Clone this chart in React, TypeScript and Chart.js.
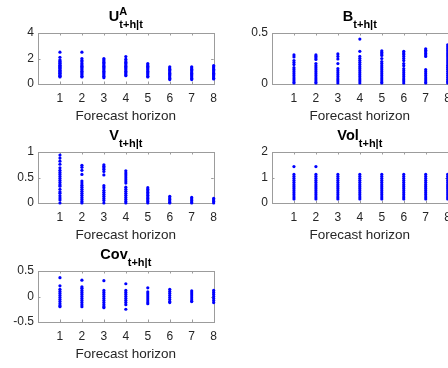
import React, { useEffect, useRef } from "react";
import { Chart, registerables } from "chart.js";

Chart.register(...registerables);

// ---------- data ----------
const horizons = [1, 2, 3, 4, 5, 6, 7, 8];
const xTicks = [1, 2, 3, 4, 5, 6, 7, 8];
const xLabel = "Forecast horizon";

// U^A_{t+h|t}: one list of draws per horizon
const uaValues = [
  [2.5, 2.1, 1.9, 1.8, 1.75, 1.65, 1.6, 1.5, 1.45, 1.4, 1.3, 1.25, 1.2, 1.1, 1.05, 1.0, 0.9, 0.85, 0.8, 0.7, 0.65, 0.6, 0.55],
  [2.5, 2.0, 1.85, 1.75, 1.6, 1.5, 1.4, 1.3, 1.2, 1.1, 1.0, 0.9, 0.8, 0.7, 0.6, 0.55],
  [2.0, 1.9, 1.8, 1.7, 1.6, 1.5, 1.4, 1.3, 1.2, 1.1, 1.0, 0.9, 0.8, 0.7, 0.6, 0.5],
  [2.15, 1.95, 1.8, 1.7, 1.6, 1.5, 1.4, 1.3, 1.2, 1.1, 1.0, 0.9, 0.8, 0.7, 0.65],
  [1.6, 1.5, 1.4, 1.3, 1.2, 1.1, 1.0, 0.9, 0.8, 0.7, 0.6, 0.55],
  [1.35, 1.25, 1.15, 1.05, 0.95, 0.85, 0.75, 0.65, 0.55, 0.45, 0.35],
  [1.35, 1.25, 1.15, 1.05, 0.95, 0.85, 0.75, 0.65, 0.55, 0.45, 0.35],
  [1.45, 1.35, 1.25, 1.15, 1.05, 0.95, 0.85, 0.75, 0.65, 0.55, 0.45, 0.4],
];
const uaYTicks = [0, 2, 4];

// B_{t+h|t}
const bValues = [
  [0.285, 0.265, 0.23, 0.21, 0.19, 0.16, 0.14, 0.12, 0.1, 0.08, 0.06, 0.04, 0.02, 0.01],
  [0.285, 0.27, 0.255, 0.24, 0.2, 0.18, 0.16, 0.14, 0.12, 0.1, 0.08, 0.06, 0.04, 0.02, 0.01],
  [0.295, 0.27, 0.245, 0.2, 0.15, 0.13, 0.11, 0.09, 0.07, 0.05, 0.03, 0.01],
  [0.44, 0.32, 0.27, 0.25, 0.23, 0.21, 0.19, 0.17, 0.15, 0.13, 0.11, 0.09, 0.07, 0.05, 0.03, 0.01],
  [0.325, 0.31, 0.295, 0.28, 0.25, 0.22, 0.2, 0.18, 0.16, 0.14, 0.12, 0.1, 0.08, 0.06, 0.04, 0.02, 0.01],
  [0.32, 0.305, 0.29, 0.27, 0.25, 0.23, 0.2, 0.18, 0.15, 0.13, 0.11, 0.09, 0.07, 0.05, 0.03, 0.01],
  [0.345, 0.33, 0.315, 0.3, 0.285, 0.27, 0.14, 0.12, 0.1, 0.08, 0.06, 0.04, 0.02, 0.01],
  [0.385, 0.365, 0.345, 0.325, 0.305, 0.285, 0.265, 0.245, 0.225, 0.205, 0.185, 0.165, 0.145, 0.125, 0.105, 0.085, 0.065, 0.045, 0.025, 0.01],
];
const bYTicks = [0, 0.5];

// V_{t+h|t}
const vValues = [
  [0.94, 0.88, 0.82, 0.76, 0.69, 0.64, 0.6, 0.56, 0.52, 0.48, 0.44, 0.4, 0.36, 0.33, 0.27, 0.22, 0.19, 0.14, 0.1, 0.06, 0.0],
  [0.74, 0.7, 0.64, 0.56, 0.43, 0.39, 0.35, 0.31, 0.27, 0.23, 0.19, 0.15, 0.11, 0.07, 0.03, 0.0],
  [0.75, 0.72, 0.69, 0.66, 0.62, 0.55, 0.34, 0.3, 0.25, 0.21, 0.17, 0.13, 0.09, 0.05, 0.0],
  [0.63, 0.59, 0.55, 0.51, 0.47, 0.43, 0.39, 0.31, 0.27, 0.23, 0.19, 0.15, 0.11, 0.07, 0.03, 0.0],
  [0.3, 0.27, 0.24, 0.21, 0.18, 0.15, 0.12, 0.09, 0.06, 0.03, 0.0],
  [0.13, 0.1, 0.07, 0.04, 0.01, 0.0],
  [0.11, 0.08, 0.05, 0.02, 0.0],
  [0.09, 0.06, 0.03, 0.0],
];
const vYTicks = [0, 0.5, 1];

// Vol_{t+h|t}
const volValues = [
  [1.43, 1.12, 1.04, 0.96, 0.88, 0.8, 0.72, 0.64, 0.56, 0.48, 0.4, 0.32, 0.24, 0.16],
  [1.43, 1.12, 1.04, 0.96, 0.88, 0.8, 0.72, 0.64, 0.56, 0.48, 0.4, 0.32, 0.24, 0.16],
  [1.12, 1.04, 0.96, 0.88, 0.8, 0.72, 0.64, 0.56, 0.48, 0.4, 0.32, 0.24, 0.16],
  [1.12, 1.04, 0.96, 0.88, 0.8, 0.72, 0.64, 0.56, 0.48, 0.4, 0.32, 0.24, 0.16],
  [1.12, 1.04, 0.96, 0.88, 0.8, 0.72, 0.64, 0.56, 0.48, 0.4, 0.32, 0.24, 0.16],
  [1.12, 1.04, 0.96, 0.88, 0.8, 0.72, 0.64, 0.56, 0.48, 0.4, 0.32, 0.24, 0.16],
  [1.12, 1.04, 0.96, 0.88, 0.8, 0.72, 0.64, 0.56, 0.48, 0.4, 0.32, 0.24, 0.16],
  [1.12, 1.04, 0.96, 0.88, 0.8, 0.72, 0.64, 0.56, 0.48, 0.4, 0.32, 0.24, 0.16],
];
const volYTicks = [0, 1, 2];

// Cov_{t+h|t}
const covValues = [
  [0.37, 0.21, 0.14, 0.1, 0.06, 0.02, -0.02, -0.06, -0.1, -0.14, -0.18, -0.2],
  [0.32, 0.19, 0.16, 0.12, 0.08, 0.04, 0.0, -0.04, -0.08, -0.12, -0.16, -0.2],
  [0.31, 0.12, 0.08, 0.04, 0.0, -0.04, -0.08, -0.12, -0.16, -0.2, -0.22],
  [0.25, 0.12, 0.08, 0.04, 0.0, -0.04, -0.08, -0.12, -0.16, -0.25],
  [0.17, 0.09, 0.05, 0.01, -0.03, -0.07, -0.11, -0.14],
  [0.14, 0.1, 0.06, 0.02, -0.02, -0.06, -0.1, -0.12],
  [0.11, 0.07, 0.03, -0.01, -0.05, -0.09, -0.1],
  [0.12, 0.08, 0.04, 0.0, -0.04, -0.08, -0.12],
];
const covYTicks = [-0.5, 0, 0.5];

// ---------- presentation ----------
const FONT = "'Liberation Sans', Arial, Helvetica, sans-serif";
const TEXT = "#262626";
const BOX = "#9c9c9c";
const DOT = "#0000ff";
const CW = 224;
const CH = 126;

type Panel = {
  name: string;
  sup?: string;
  sub: string;
  values: number[][];
  yMin: number;
  yMax: number;
  yTicks: number[];
  left: number;
  top: number;
};

const panels: Panel[] = [
  { name: "U", sup: "A", sub: "t+h|t", values: uaValues, yMin: 0, yMax: 4, yTicks: uaYTicks, left: 0, top: 0 },
  { name: "B", sub: "t+h|t", values: bValues, yMin: 0, yMax: 0.5, yTicks: bYTicks, left: 234, top: 0 },
  { name: "V", sub: "t+h|t", values: vValues, yMin: 0, yMax: 1, yTicks: vYTicks, left: 0, top: 119 },
  { name: "Vol", sub: "t+h|t", values: volValues, yMin: 0, yMax: 2, yTicks: volYTicks, left: 234, top: 119 },
  { name: "Cov", sub: "t+h|t", values: covValues, yMin: -0.5, yMax: 0.5, yTicks: covYTicks, left: 0, top: 238 },
];

function framePlugin(p: Panel) {
  return {
    id: "matlabFrame",
    beforeDatasetsDraw(chart: any) {
      const { ctx, chartArea } = chart;
      const { left, right, top, bottom } = chartArea;
      const xs = chart.scales.x;
      const ys = chart.scales.y;
      ctx.save();
      ctx.strokeStyle = BOX;
      ctx.lineWidth = 1;
      ctx.strokeRect(Math.round(left) + 0.5, Math.round(top) + 0.5, Math.round(right - left), Math.round(bottom - top));
      ctx.beginPath();
      const tl = 2.5;
      xTicks.forEach((v) => {
        const px = Math.round(xs.getPixelForValue(v)) + 0.5;
        ctx.moveTo(px, top);
        ctx.lineTo(px, top + tl);
        ctx.moveTo(px, bottom);
        ctx.lineTo(px, bottom - tl);
      });
      p.yTicks.forEach((v) => {
        const py = Math.round(ys.getPixelForValue(v)) + 0.5;
        ctx.moveTo(left, py);
        ctx.lineTo(left + tl, py);
        ctx.moveTo(right, py);
        ctx.lineTo(right - tl, py);
      });
      ctx.stroke();
      ctx.restore();
    },
    afterDraw(chart: any) {
      const { ctx, chartArea } = chart;
      const cx = (chartArea.left + chartArea.right) / 2;
      const mainFont = `bold 14.5px ${FONT}`;
      const smallFont = `bold 11px ${FONT}`;
      ctx.save();
      ctx.fillStyle = "#000000";
      ctx.textBaseline = "alphabetic";
      ctx.textAlign = "left";
      ctx.font = mainFont;
      const mw = ctx.measureText(p.name).width;
      ctx.font = smallFont;
      const sw = ctx.measureText(p.sub).width;
      const uw = p.sup ? ctx.measureText(p.sup).width : 0;
      const total = mw + Math.max(sw, uw);
      const x0 = cx - total / 2;
      ctx.font = mainFont;
      ctx.fillText(p.name, x0, 20.5);
      ctx.font = smallFont;
      ctx.fillText(p.sub, x0 + mw, 27.5);
      if (p.sup) ctx.fillText(p.sup, x0 + mw, 15);
      ctx.restore();
    },
  };
}

function PanelChart({ p }: { p: Panel }) {
  const ref = useRef<HTMLCanvasElement | null>(null);
  useEffect(() => {
    if (!ref.current) return;
    const data = p.values.flatMap((col, i) => col.map((v) => ({ x: horizons[i], y: v })));
    const chart = new Chart(ref.current, {
      type: "scatter",
      data: {
        datasets: [
          {
            data,
            backgroundColor: DOT,
            borderColor: DOT,
            borderWidth: 0,
            pointRadius: 1.6,
            pointHoverRadius: 1.6,
            clip: false,
          } as any,
        ],
      },
      options: {
        animation: false,
        responsive: false,
        devicePixelRatio: 1,
        events: [],
        layout: { padding: { top: 33, right: 10, bottom: 0, left: 0 } },
        plugins: { legend: { display: false }, tooltip: { enabled: false } },
        scales: {
          x: {
            type: "linear",
            min: 0,
            max: 8,
            afterBuildTicks: (s: any) => {
              s.ticks = xTicks.map((v) => ({ value: v }));
            },
            afterFit: (s: any) => {
              s.height = 42;
            },
            grid: { display: false, drawTicks: false },
            border: { display: false },
            ticks: {
              color: TEXT,
              font: { family: FONT, size: 12 },
              padding: 7,
              autoSkip: false,
              maxRotation: 0,
              callback: (v: any) => String(v),
            },
            title: {
              display: true,
              text: xLabel,
              color: TEXT,
              font: { family: FONT, size: 13.5 },
              padding: { top: 0, bottom: 2 },
            },
          },
          y: {
            type: "linear",
            min: p.yMin,
            max: p.yMax,
            afterBuildTicks: (s: any) => {
              s.ticks = p.yTicks.map((v) => ({ value: v }));
            },
            afterFit: (s: any) => {
              s.width = 38;
            },
            grid: { display: false, drawTicks: false },
            border: { display: false },
            ticks: {
              color: TEXT,
              font: { family: FONT, size: 12 },
              padding: 4,
              callback: (v: any) => String(v),
            },
          },
        },
      } as any,
      plugins: [framePlugin(p)],
    });
    return () => chart.destroy();
  }, [p]);
  return (
    <canvas
      ref={ref}
      width={CW}
      height={CH}
      style={{ position: "absolute", left: p.left, top: p.top, width: CW, height: CH }}
    />
  );
}

export default function App() {
  return (
    <div
      style={{
        position: "fixed",
        left: 0,
        top: 0,
        width: 448,
        height: 368,
        overflow: "hidden",
        background: "#ffffff",
      }}
    >
      {panels.map((p) => (
        <PanelChart key={p.name} p={p} />
      ))}
    </div>
  );
}
